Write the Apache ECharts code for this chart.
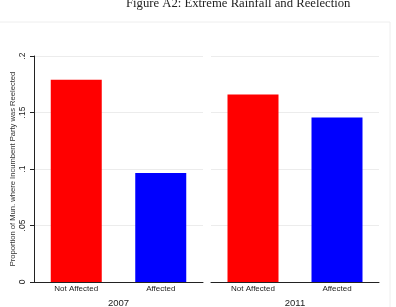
<!DOCTYPE html>
<html>
<head>
<meta charset="utf-8">
<script src="https://cdn.jsdelivr.net/npm/echarts@6/dist/echarts.min.js"></script>
<style>
  html, body { margin: 0; padding: 0; background: #fff; }
  #main { width: 396px; height: 307px; }
</style>
</head>
<body>
<div id="main"></div>
<script>
// values
var categories = ['Not Affected', 'Affected'];
var years = ['2007', '2011'];
var share2007 = [0.179, 0.0965];
var share2011 = [0.166, 0.1456];
var barColors = ['#ff0000', '#0000ff'];
var yTicks = { '0': '0', '0.05': '.05', '0.1': '.1', '0.15': '.15', '0.2': '.2' };

var chart = echarts.init(document.getElementById('main'));

let makeData = (vals) => vals.map((v, i) => ({ value: v, itemStyle: { color: barColors[i] } }));

let tickLabel = (v) => {
  let key = String(Math.round(v * 100) / 100);
  return yTicks[key] !== undefined ? yTicks[key] : '';
};

var gridLine = { show: true, lineStyle: { color: '#ececec', width: 1 } };

let xAxisFor = (idx, name) => ({
  type: 'category',
  gridIndex: idx,
  data: categories,
  name: name,
  nameLocation: 'middle',
  nameGap: 15,
  nameTextStyle: { fontFamily: 'Liberation Sans', fontSize: 9.5, color: '#222' },
  axisLine: { lineStyle: { color: '#222', width: 1 } },
  axisTick: { show: false },
  axisLabel: { fontFamily: 'Liberation Sans', fontSize: 8, color: '#222', margin: 3 }
});

var option = {
  animation: false,
  graphic: [
    {
      type: 'rect',
      shape: { x: -1, y: 22, width: 391, height: 300 },
      style: { fill: 'none', stroke: '#eeeeee', lineWidth: 1 }
    },
    {
      type: 'text',
      left: 126, top: -3,
      style: { text: 'Figure A2: Extreme Rainfall and Reelection', font: '12.7px "Liberation Serif"', fill: '#222' }
    }
  ],
  grid: [
    { left: 34, right: 193, top: 56, bottom: 25, outerBoundsMode: 'none' },
    { left: 211, right: 17, top: 56, bottom: 25, outerBoundsMode: 'none' }
  ],
  xAxis: [xAxisFor(0, years[0]), xAxisFor(1, years[1])],
  yAxis: [
    {
      type: 'value', gridIndex: 0, min: 0, max: 0.2, interval: 0.05,
      name: 'Proportion of Mun. where Incumbent Party was Reelected',
      nameLocation: 'middle', nameGap: 16,
      nameTextStyle: { fontFamily: 'Liberation Sans', fontSize: 7.6, color: '#333' },
      axisLine: { show: true, lineStyle: { color: '#222', width: 1 } },
      axisTick: { show: true, length: 4, lineStyle: { color: '#222' } },
      axisLabel: { rotate: 90, fontFamily: 'Liberation Sans', fontSize: 8.5, color: '#222', margin: 7, formatter: tickLabel },
      splitLine: gridLine
    },
    {
      type: 'value', gridIndex: 1, min: 0, max: 0.2, interval: 0.05,
      axisLine: { show: false },
      axisTick: { show: false },
      axisLabel: { show: false },
      splitLine: gridLine
    }
  ],
  series: [
    { type: 'bar', xAxisIndex: 0, yAxisIndex: 0, barWidth: 51, data: makeData(share2007) },
    { type: 'bar', xAxisIndex: 1, yAxisIndex: 1, barWidth: 51, data: makeData(share2011) }
  ]
};

chart.setOption(option);
</script>
</body>
</html>
